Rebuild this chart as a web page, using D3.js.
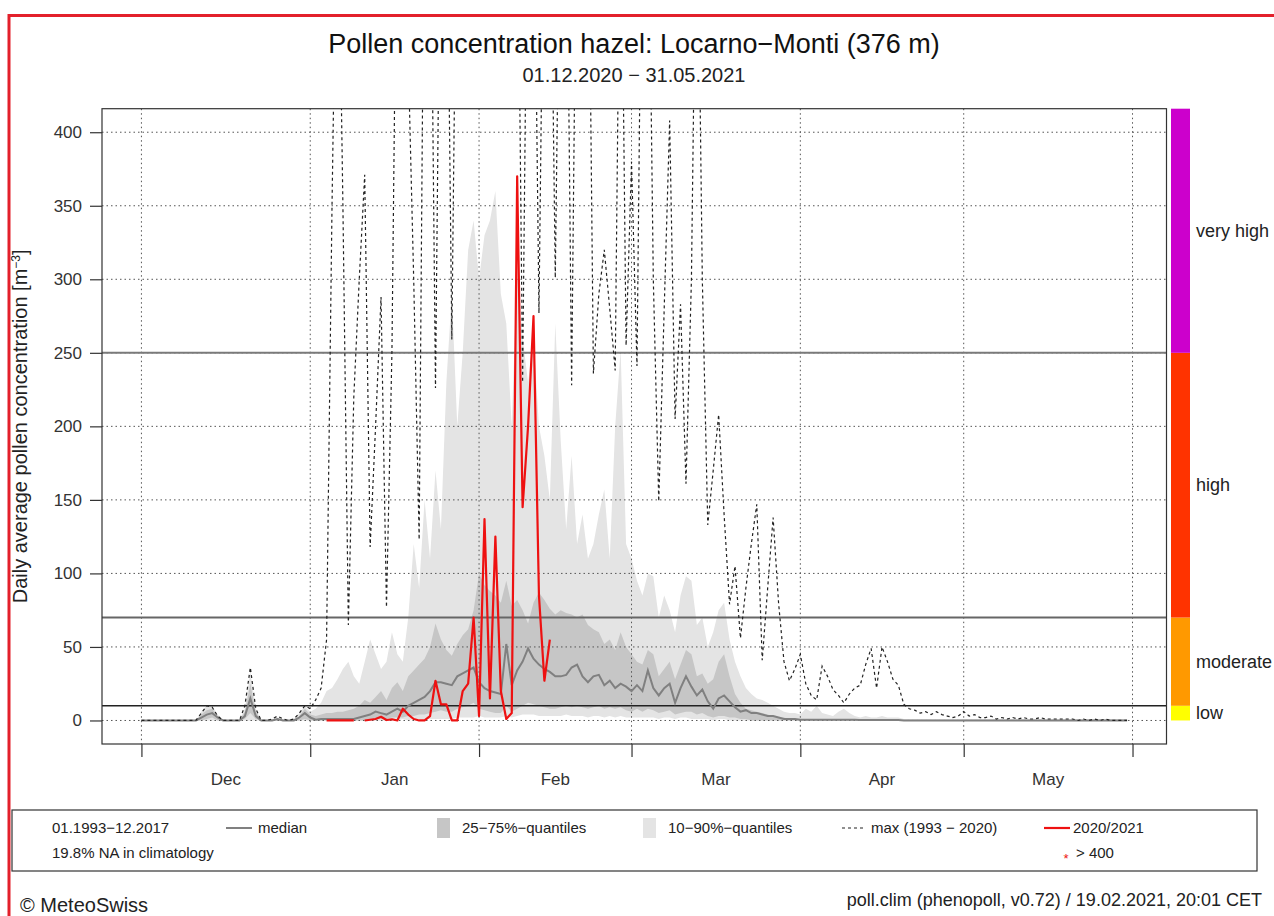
<!DOCTYPE html>
<html>
<head>
<meta charset="utf-8">
<title>Pollen concentration hazel: Locarno-Monti</title>
<script src="https://d3js.org/d3.v7.min.js"></script>
<style>
  body { margin: 0; background: #fff; }
  svg { display: block; font-family: "Liberation Sans", Arial, sans-serif; }
  .grid line { stroke: #555; stroke-width: 1; stroke-dasharray: 1.5,3; }
</style>
</head>
<body>
<svg width="1274" height="916"></svg>
<script>
// daily values, index 0 = 01.12.2020 ... 181 = 31.05.2021
const maxClim = [
  0,0,0,0,0,0,0,0,0,0,
  0,5,10,9,3,0,0,0,0,10,
  36,8,0,0,1,3,1,0,1,5,
  10,8,14,22,55,350,600,350,65,220,
  300,371,118,200,288,77,250,600,600,450,
  300,123,600,600,226,600,600,259,600,600,
  600,600,600,600,600,600,600,600,600,600,
  230,600,600,277,600,600,301,600,600,228,
  600,600,600,236,290,320,280,238,600,255,
  380,241,600,600,300,149,280,408,205,283,
  161,300,600,300,133,170,208,140,79,105,
  56,90,120,147,41,90,138,80,40,27,
  35,45,25,17,14,37,30,21,17,12,
  18,22,24,38,49,22,50,40,28,24,
  11,8,7,5,6,4,6,4,3,2,
  3,6,3,4,2,2,3,1,2,1,
  2,1,2,1,1,2,1,1,1,1,
  1,1,0,1,0,1,0,1,0,0,
  0,0
];
const median = [
  0,0,0,0,0,0,0,0,0,0,
  0,2,4,5,2,0,0,0,0,3,
  15,3,0,0,0,1,0,0,0,2,
  5,2,0.5,1,1,1,1,1,1,1,
  2,3,4,6,5,4,6,8,6,10,
  12,14,16,20,26,26,25,24,30,32,
  34,36,26,22,20,19,18,52,24,34,
  40,49,42,38,35,33,30,30,31,36,
  38,30,26,30,31,24,27,22,25,23,
  20,24,20,34,22,17,22,25,12,22,
  30,23,17,21,13,8,15,17,13,9,
  6,7,5,5,4,3,3,2,1,1,
  1,0.5,0.5,0.5,0.5,0.5,0.5,0.5,0.5,0.5,
  0.5,0.5,0.3,0.3,0.3,0.3,0.3,0.3,0.3,0.3,
  0,0,0,0,0,0,0,0,0,0,
  0,0,0,0,0,0,0,0,0,0,
  0,0,0,0,0,0,0,0,0,0,
  0,0,0,0,0,0,0,0,0,0,
  0,0
];
const q10 = [
  0,0,0,0,0,0,0,0,0,0,
  0,0,0,0,0,0,0,0,0,0,
  0,0,0,0,0,0,0,0,0,0,
  0,0,0,0,0,0,0,0,0,0,
  0,0,0,0,0,0,0,0,1,0,
  1,1,1,1,1,1,1,1,2,2,
  2,2,3,2,2,2,2,3,2,3,
  4,4,4,3,3,3,3,3,4,3,
  3,3,2,3,3,2,3,2,3,2,
  2,2,2,2,2,1,2,2,1,2,
  2,1,1,1,1,0,1,1,0,0,
  0,0,0,0,0,0,0,0,0,0,
  0,0,0,0,0,0,0,0,0,0,
  0,0,0,0,0,0,0,0,0,0,
  0,0,0,0,0,0,0,0,0,0,
  0,0,0,0,0,0,0,0,0,0,
  0,0,0,0,0,0,0,0,0,0,
  0,0,0,0,0,0,0,0,0,0,
  0,0
];
const q25 = [
  0,0,0,0,0,0,0,0,0,0,
  0,0,1,2,0,0,0,0,0,1,
  5,1,0,0,0,0,0,0,0,0,
  1,0,0,0,0,0,0,0,0,0,
  0,0,1,1,1,1,2,2,2,3,
  3,4,4,5,6,7,6,6,8,9,
  10,12,8,7,6,5,5,10,6,8,
  10,12,11,10,9,8,8,9,10,9,
  10,9,8,9,10,8,9,8,9,7,
  6,8,6,8,7,5,6,7,4,5,
  6,6,4,5,3,2,3,3,2,2,
  1,1,0,0,0,0,0,0,0,0,
  0,0,0,0,0,0,0,0,0,0,
  0,0,0,0,0,0,0,0,0,0,
  0,0,0,0,0,0,0,0,0,0,
  0,0,0,0,0,0,0,0,0,0,
  0,0,0,0,0,0,0,0,0,0,
  0,0,0,0,0,0,0,0,0,0,
  0,0
];
const q75 = [
  0,0,0,0,0,0,0,0,0,0,
  0,4,7,8,3,0,0,0,0,6,
  25,6,0,0,0,1,0,0,0,3,
  8,4,3,4,5,5,6,6,7,8,
  10,14,12,16,20,14,22,26,20,30,
  34,38,42,50,66,55,48,44,52,58,
  62,75,100,92,88,85,80,95,78,82,
  75,66,80,87,82,76,72,75,73,72,
  70,72,65,62,60,52,55,48,60,50,
  45,40,38,48,45,30,35,40,28,38,
  48,45,30,32,25,28,40,45,30,18,
  12,8,7,6,5,4,3,2,2,1,
  1,1,1,1,0.5,0.5,0.5,0.5,0.5,0.5,
  0.5,0.5,0.5,0.5,0.5,0.5,0.5,0.5,0.5,0.5,
  0,0,0,0,0,0,0,0,0,0,
  0,0,0,0,0,0,0,0,0,0,
  0,0,0,0,0,0,0,0,0,0,
  0,0,0,0,0,0,0,0,0,0,
  0,0
];
const q90 = [
  0,0,0,0,0,0,0,0,0,0,
  0,6,10,10,4,0,0,0,0,8,
  33,8,0,0,1,2,1,0,1,5,
  10,6,8,12,20,22,28,35,40,30,
  25,40,55,45,35,40,60,45,40,70,
  120,90,150,110,170,130,230,290,200,250,
  320,340,300,330,340,360,290,270,200,310,
  260,230,260,200,180,150,270,190,130,180,
  120,140,110,120,140,157,110,200,252,120,
  110,95,85,100,98,70,85,75,60,85,
  98,95,65,70,50,60,75,80,55,40,
  30,22,18,15,14,12,10,8,6,5,
  5,4,8,6,10,5,4,3,6,8,
  5,3,2,3,2,2,3,2,2,2,
  1,1,1,1,1,1,1,1,1,1,
  1,1,1,1,1,1,1,1,1,1,
  1,1,1,1,1,1,1,1,1,1,
  1,1,1,1,1,1,1,1,1,1,
  1,1
];
// season 2020/2021, index 34 = 04.01.2021 ... 75 = 14.02.2021 (null = missing)
const obsStartIndex = 34;
const obs2021 = [
  0,0,0,0,0,0,null,
  0,0.5,1,2.5,0.3,0.8,0,8,4,
  1,0,0,3,27,11,11,0,0,20,
  25,70,3,137,15,125,20,1,5,370,
  145,200,275,85,27,55
];

const monthTicks = ["2020-12-01","2021-01-01","2021-02-01","2021-03-01","2021-04-01","2021-05-01","2021-06-01"];
const monthLabels = ["Dec","Jan","Feb","Mar","Apr","May"];
const yTicks = [0,50,100,150,200,250,300,350,400];
const levelBreaks = [0,10,70,250,416];
const levelNames = ["low","moderate","high","very high"];
const levelColors = ["#ffff00","#ff9900","#ff3300","#cc00cc"];
const thresholds = [10,70,250];

const DAY = 86400000;
const t0 = Date.UTC(2020, 11, 1);
const dateOf = i => new Date(t0 + i * DAY);
const nDays = maxClim.length;

const svg = d3.select("svg");
const box = {left: 102, right: 1166.5, top: 108.7, bottom: 744};

const x = d3.scaleUtc()
  .domain([new Date(t0 - 7.24 * DAY), new Date(t0 + (nDays - 1 + 7.24) * DAY)])
  .range([box.left, box.right]);
const y = d3.scaleLinear()
  .domain([-16, 416])
  .range([box.bottom, box.top]);

// red page border
svg.append("rect")
  .attr("x", 9).attr("y", 15.5).attr("width", 1300).attr("height", 950)
  .attr("fill", "none").attr("stroke", "#e3202b").attr("stroke-width", 3);

// titles
svg.append("text")
  .attr("x", 634).attr("y", 53).attr("text-anchor", "middle")
  .style("font-size", "27px").attr("fill", "#111")
  .text("Pollen concentration hazel: Locarno\u2212Monti (376 m)");
svg.append("text")
  .attr("x", 634).attr("y", 82).attr("text-anchor", "middle")
  .style("font-size", "20px").attr("fill", "#222")
  .text("01.12.2020 \u2212 31.05.2021");

svg.append("clipPath").attr("id", "plotclip")
  .append("rect")
  .attr("x", box.left).attr("y", box.top)
  .attr("width", box.right - box.left).attr("height", box.bottom - box.top);

const plot = svg.append("g").attr("clip-path", "url(#plotclip)");
const idx = d3.range(nDays);

// quantile bands
plot.append("path")
  .datum(idx)
  .attr("fill", "#e4e4e4")
  .attr("d", d3.area().x(i => x(dateOf(i))).y0(i => y(q10[i])).y1(i => y(q90[i])));
plot.append("path")
  .datum(idx)
  .attr("fill", "#c6c6c6")
  .attr("d", d3.area().x(i => x(dateOf(i))).y0(i => y(q25[i])).y1(i => y(q75[i])));

// grid
const grid = plot.append("g").attr("class", "grid");
grid.selectAll(".gy").data(yTicks).enter().append("line")
  .attr("x1", box.left).attr("x2", box.right)
  .attr("y1", d => y(d)).attr("y2", d => y(d));
grid.selectAll(".gx").data(monthTicks).enter().append("line")
  .attr("x1", d => x(new Date(d))).attr("x2", d => x(new Date(d)))
  .attr("y1", box.top).attr("y2", box.bottom);

// level thresholds
plot.selectAll(".thr").data(thresholds).enter().append("line")
  .attr("x1", box.left).attr("x2", box.right)
  .attr("y1", d => y(d)).attr("y2", d => y(d))
  .attr("stroke", d => d === 10 ? "#222" : (d === 70 ? "#666" : "#7a7a7a"))
  .attr("stroke-width", d => d === 10 ? 1.5 : 2);

// median
plot.append("path")
  .datum(idx)
  .attr("fill", "none").attr("stroke", "#808080").attr("stroke-width", 2)
  .attr("d", d3.line().x(i => x(dateOf(i))).y(i => y(median[i])));

// max
plot.append("path")
  .datum(idx)
  .attr("fill", "none").attr("stroke", "#222").attr("stroke-width", 1.2)
  .attr("stroke-dasharray", "3,3")
  .attr("d", d3.line().x(i => x(dateOf(i))).y(i => y(maxClim[i])));

// season 2020/2021
plot.append("path")
  .datum(obs2021.map((v, k) => ({i: obsStartIndex + k, v: v})))
  .attr("fill", "none").attr("stroke", "#ee1111").attr("stroke-width", 2.2)
  .attr("stroke-linejoin", "round")
  .attr("d", d3.line().defined(d => d.v !== null).x(d => x(dateOf(d.i))).y(d => y(d.v)));

// plot frame
svg.append("rect")
  .attr("x", box.left).attr("y", box.top)
  .attr("width", box.right - box.left).attr("height", box.bottom - box.top)
  .attr("fill", "none").attr("stroke", "#333").attr("stroke-width", 1.2);

// y axis
const yAxis = svg.append("g")
  .attr("transform", "translate(" + box.left + ",0)")
  .call(d3.axisLeft(y).tickValues(yTicks).tickSize(12).tickPadding(8));
yAxis.select(".domain").remove();
yAxis.selectAll("line").attr("stroke", "#333").attr("stroke-width", 1.2);
yAxis.selectAll("text").style("font-size", "17px").attr("fill", "#333")
  .style("font-family", "'Liberation Sans', Arial, sans-serif");

// x axis
const xAxis = svg.append("g")
  .attr("transform", "translate(0," + box.bottom + ")")
  .call(d3.axisBottom(x).tickValues(monthTicks.map(d => new Date(d))).tickSize(13).tickFormat(""));
xAxis.select(".domain").remove();
xAxis.selectAll("line").attr("stroke", "#333").attr("stroke-width", 1.2);
svg.selectAll(".mlab").data(monthLabels).enter().append("text")
  .attr("x", (d, k) => (x(new Date(monthTicks[k])) + x(new Date(monthTicks[k + 1]))) / 2)
  .attr("y", 785).attr("text-anchor", "middle")
  .style("font-size", "17px").attr("fill", "#333")
  .text(d => d);

// y label
const yl = svg.append("text")
  .attr("transform", "translate(27," + ((box.top + box.bottom) / 2) + ") rotate(-90)")
  .attr("text-anchor", "middle").style("font-size", "20px").attr("fill", "#222");
yl.append("tspan").text("Daily average pollen concentration [m");
yl.append("tspan").attr("dy", -7).style("font-size", "12px").text("\u22123");
yl.append("tspan").attr("dy", 7).text("]");

// level colour bar
svg.selectAll(".lvl").data(levelNames).enter().append("rect")
  .attr("x", 1171).attr("width", 19)
  .attr("y", (d, k) => y(levelBreaks[k + 1]))
  .attr("height", (d, k) => y(levelBreaks[k]) - y(levelBreaks[k + 1]))
  .attr("fill", (d, k) => levelColors[k]);
svg.selectAll(".lvlt").data(levelNames).enter().append("text")
  .attr("x", 1196)
  .attr("y", (d, k) => y((levelBreaks[k] + levelBreaks[k + 1]) / 2) + 6)
  .style("font-size", "18px").attr("fill", "#222")
  .text(d => d);

// legend
const lg = svg.append("g");
lg.append("rect").attr("x", 12).attr("y", 810).attr("width", 1245).attr("height", 61)
  .attr("fill", "none").attr("stroke", "#333").attr("stroke-width", 1.2);
const lt = (tx, ty, s) => lg.append("text").attr("x", tx).attr("y", ty)
  .style("font-size", "15px").attr("fill", "#222").text(s);
lt(52, 833, "01.1993\u221212.2017");
lt(52, 858, "19.8% NA in climatology");
lg.append("line").attr("x1", 226).attr("x2", 252).attr("y1", 828).attr("y2", 828)
  .attr("stroke", "#808080").attr("stroke-width", 2);
lt(258, 833, "median");
lg.append("rect").attr("x", 437).attr("y", 818).attr("width", 13).attr("height", 20).attr("fill", "#c6c6c6");
lt(462, 833, "25\u221275%\u2212quantiles");
lg.append("rect").attr("x", 643).attr("y", 818).attr("width", 13).attr("height", 20).attr("fill", "#e4e4e4");
lt(668, 833, "10\u221290%\u2212quantiles");
lg.append("line").attr("x1", 842).attr("x2", 864).attr("y1", 828).attr("y2", 828)
  .attr("stroke", "#222").attr("stroke-width", 1.2).attr("stroke-dasharray", "3,3");
lt(871, 833, "max (1993 \u2212 2020)");
lg.append("line").attr("x1", 1044).attr("x2", 1070).attr("y1", 828).attr("y2", 828)
  .attr("stroke", "#ee1111").attr("stroke-width", 2.2);
lt(1073, 833, "2020/2021");
lg.append("text").attr("x", 1066).attr("y", 863).attr("text-anchor", "middle")
  .style("font-size", "13px").attr("fill", "#ee1111").text("*");
lt(1076, 858, "> 400");

// footer
svg.append("text").attr("x", 20).attr("y", 912)
  .style("font-size", "20px").attr("fill", "#222").text("\u00a9 MeteoSwiss");
svg.append("text").attr("x", 1262).attr("y", 906).attr("text-anchor", "end")
  .style("font-size", "18px").attr("fill", "#222")
  .text("poll.clim (phenopoll, v0.72) / 19.02.2021, 20:01 CET");
</script>
</body>
</html>
